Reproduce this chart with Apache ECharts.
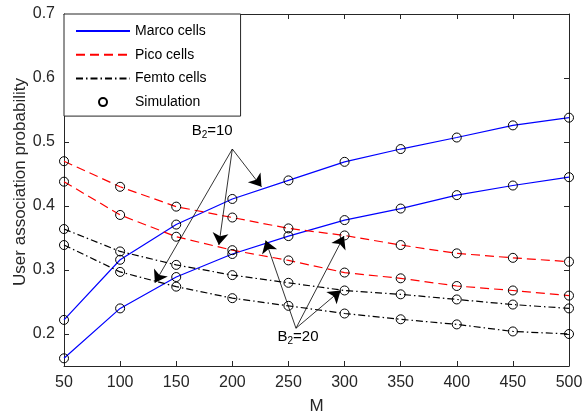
<!DOCTYPE html>
<html><head><meta charset="utf-8">
<script src="https://cdn.jsdelivr.net/npm/echarts@6/dist/echarts.min.js"></script>
<style>html,body{margin:0;padding:0;background:#fff}#c{width:583px;height:417px}</style>
</head><body><div id="c"></div>
<script>
const M = [50,100,150,200,250,300,350,400,450,500];
const yTicks = [0.2,0.3,0.4,0.5,0.6,0.7];
const marcoA = [0.222,0.316,0.371,0.411,0.440,0.469,0.489,0.507,0.526,0.538];
const marcoB = [0.162,0.240,0.289,0.325,0.353,0.378,0.396,0.417,0.432,0.445];
const picoA  = [0.470,0.430,0.399,0.382,0.365,0.354,0.339,0.326,0.319,0.313];
const picoB  = [0.438,0.386,0.352,0.331,0.315,0.296,0.287,0.275,0.268,0.260];
const femtoA = [0.364,0.329,0.308,0.292,0.280,0.268,0.262,0.254,0.246,0.240];
const femtoB = [0.339,0.297,0.274,0.256,0.244,0.232,0.223,0.215,0.204,0.200];
// annotation arrows (data coordinates): [from, to]
const arrows10 = [[[200,0.489],[226,0.430]],[[200,0.489],[188,0.339]],[[200,0.489],[131,0.280]]];
const arrows20 = [[[256.7,0.209],[299.5,0.353]],[[256.7,0.209],[296.5,0.268]],[[256.7,0.209],[229.7,0.346]]];
const labels = [{text:'B{s|2}=10', at:[182,0.517]},{text:'B{s|2}=20', at:[258.5,0.195]}];

const FONT = 'Liberation Sans, Arial, sans-serif';
const AX = '#262626';
const pairs = (a) => a.map((v,i)=>[M[i],v]);

function lineSeries(name, data, color, type){
  return {type:'line', name, data:pairs(data), symbol:'none', z:2,
    lineStyle:{color, width:1.2, type}, itemStyle:{color}, animation:false, silent:true};
}
function simSeries(data){
  return {type:'line', name:'Simulation', data:pairs(data), symbol:'circle', symbolSize:9, showSymbol:true, z:5,
    lineStyle:{opacity:0, width:0}, itemStyle:{color:'rgba(0,0,0,0)', borderColor:'#000', borderWidth:1},
    animation:false, silent:true};
}
const dashP = [9,5];
const dashF = [7,3,1.5,3];
const series = [
  lineSeries('Marco cells', marcoA, '#0000ff', 'solid'),
  lineSeries('Marco cells', marcoB, '#0000ff', 'solid'),
  lineSeries('Pico cells', picoA, '#ff0000', dashP),
  lineSeries('Pico cells', picoB, '#ff0000', dashP),
  lineSeries('Femto cells', femtoA, '#000000', dashF),
  lineSeries('Femto cells', femtoB, '#000000', dashF),
  simSeries(marcoA), simSeries(marcoB), simSeries(picoA), simSeries(picoB), simSeries(femtoA), simSeries(femtoB),
  {type:'line', name:'annot', data:[], z:6, silent:true, animation:false,
    markLine:{silent:true, animation:false, symbol:['none','arrow'], symbolSize:12,
      lineStyle:{color:'#000', width:0.8, type:'solid'}, label:{show:false},
      data: arrows10.concat(arrows20).map(p=>[{coord:p[0]},{coord:p[1]}])},
    markPoint:{silent:true, animation:false, symbolSize:0,
      data: labels.map(l=>({coord:l.at, label:{show:true, position:'inside', formatter:l.text,
        color:'#000', fontFamily:FONT, fontSize:15,
        rich:{s:{fontSize:10, fontFamily:FONT, color:'#000', padding:[9,0,0,0]}}}}))}}
];

const chart = echarts.init(document.getElementById('c'), null, {renderer:'canvas'});
chart.setOption({
  animation:false,
  backgroundColor:'#fff',
  grid:{left:64, top:14, right:14, bottom:51, outerBoundsMode:'none', containLabel:false},
  legend:{orient:'vertical', left:64, top:14, padding:[10,34,7,11], itemGap:9.7, itemWidth:54, itemHeight:10,
    backgroundColor:'#fff', borderColor:AX, borderWidth:1, borderRadius:0,
    textStyle:{fontFamily:FONT, fontSize:14, color:'#000'},
    data:[{name:'Marco cells', itemStyle:{opacity:0}},{name:'Pico cells', itemStyle:{opacity:0}},
          {name:'Femto cells', itemStyle:{opacity:0}},{name:'Simulation', lineStyle:{opacity:0}}]},
  xAxis:[
    {type:'value', min:50, max:500, interval:50, name:'M', nameLocation:'middle', nameGap:32, nameMoveOverlap:false,
     nameTextStyle:{fontFamily:FONT, fontSize:17, color:AX},
     axisLine:{show:true, lineStyle:{color:AX}}, axisTick:{inside:true, length:5, lineStyle:{color:AX}},
     axisLabel:{fontFamily:FONT, fontSize:16, color:AX, margin:9}, splitLine:{show:false}},
    {type:'value', position:'top', min:50, max:500, interval:50,
     axisLine:{show:true, lineStyle:{color:AX}}, axisTick:{inside:true, length:5, lineStyle:{color:AX}},
     axisLabel:{show:false}, splitLine:{show:false}}
  ],
  yAxis:[
    {type:'value', min:0.15, max:0.7, name:'User association probability', nameLocation:'middle', nameGap:35, nameMoveOverlap:false,
     nameTextStyle:{fontFamily:FONT, fontSize:17, color:AX, padding:[0,0,0,16]},
     axisLine:{show:true, lineStyle:{color:AX}},
     axisTick:{inside:true, length:5, customValues:yTicks, lineStyle:{color:AX}},
     axisLabel:{fontFamily:FONT, fontSize:16, color:AX, margin:9, customValues:yTicks, formatter:v=>v.toFixed(1)},
     splitLine:{show:false}},
    {type:'value', position:'right', min:0.15, max:0.7,
     axisLine:{show:true, lineStyle:{color:AX}},
     axisTick:{inside:true, length:5, customValues:yTicks, lineStyle:{color:AX}},
     axisLabel:{show:false}, splitLine:{show:false}}
  ],
  series
});
</script></body></html>
